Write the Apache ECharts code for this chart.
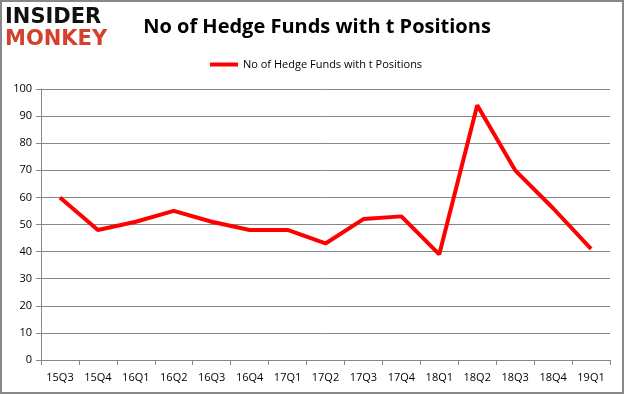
<!DOCTYPE html>
<html><head><meta charset="utf-8">
<script src="https://cdn.jsdelivr.net/npm/echarts@6/dist/echarts.min.js"></script>
<style>html,body{margin:0;padding:0;background:#fff}#c{width:625px;height:395px}</style>
</head><body><div id="c"></div>
<script>
const categories = ['15Q3','15Q4','16Q1','16Q2','16Q3','16Q4','17Q1','17Q2','17Q3','17Q4','18Q1','18Q2','18Q3','18Q4','19Q1'];
const values = [60,48,51,55,51,48,48,43,52,53,39,94,70,56,41];
const seriesName = 'No of Hedge Funds with t Positions';
const titleText = 'No of Hedge Funds with t Positions';

const chart = echarts.init(document.getElementById('c'), null, {renderer:'canvas'});
chart.setOption({
  animation:false,
  backgroundColor:'#fff',
  title:{text:titleText,left:312,textAlign:'center',top:12,
    textStyle:{fontFamily:'Open Sans',fontWeight:'bold',fontSize:20,color:'#000'}},
  legend:{data:[seriesName],top:54,left:205,itemWidth:28,itemHeight:4,itemGap:4,
    icon:'rect',
    textStyle:{fontFamily:'Open Sans',fontSize:11,color:'#000'}},
  grid:{left:41,right:15,top:89,bottom:35},
  xAxis:{type:'category',data:categories,boundaryGap:true,
    axisLine:{lineStyle:{color:'#868686'}},
    axisTick:{show:true,length:5,interval:0,lineStyle:{color:'#868686'}},
    axisLabel:{interval:0,margin:12,fontFamily:'Open Sans',fontSize:11,color:'#000'}},
  yAxis:{type:'value',min:0,max:100,interval:10,
    axisLine:{show:true,lineStyle:{color:'#868686'}},
    axisTick:{show:true,length:5,lineStyle:{color:'#868686'}},
    splitLine:{lineStyle:{color:'#868686',width:1}},
    axisLabel:{margin:9,fontFamily:'Open Sans',fontSize:11,color:'#000'}},
  series:[{name:seriesName,type:'line',data:values,symbol:'none',
    lineStyle:{color:'#ff0000',width:4},itemStyle:{color:'#ff0000'}}],
  graphic:[
    {type:'rect',shape:{x:1,y:1,width:622,height:392},style:{fill:'none',stroke:'#888',lineWidth:2},silent:true},
    {type:'text',left:5,top:7,style:{text:'INSIDER',fontFamily:'DejaVu Sans',fontWeight:'bold',fontSize:21,fill:'#111'}},
    {type:'text',left:5,top:29,style:{text:'MONKEY',fontFamily:'DejaVu Sans',fontWeight:'bold',fontSize:21,fill:'#d3402b'}}
  ]
});
</script></body></html>
